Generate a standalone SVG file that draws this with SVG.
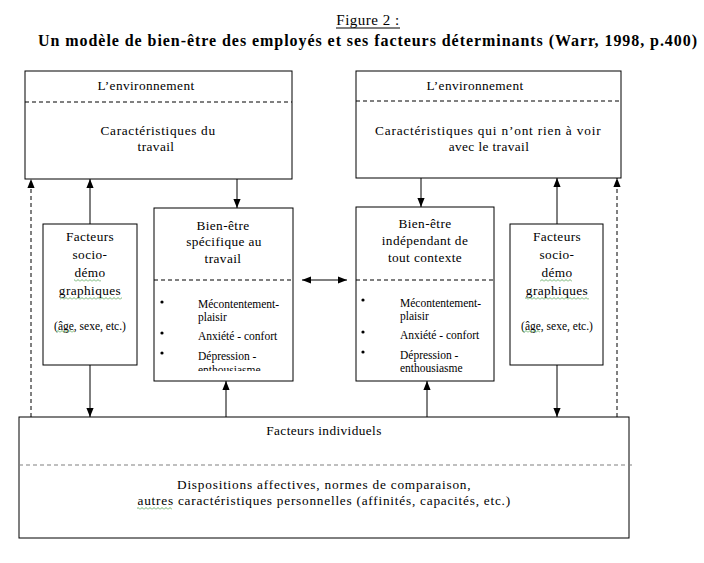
<svg xmlns="http://www.w3.org/2000/svg" width="704" height="563" viewBox="0 0 704 563">
<style>
.t{font-family:"Liberation Serif","Times New Roman",serif;font-size:13.3px;letter-spacing:0.4px;fill:#000}
.s{font-family:"Liberation Serif","Times New Roman",serif;font-size:11.5px;fill:#000}
.box{fill:#fff;stroke:#000;stroke-width:1}
.dl{stroke:#000;stroke-width:1;stroke-dasharray:4 3;fill:none}
.dg{stroke:#808080;stroke-width:1.2;stroke-dasharray:4 3;fill:none}
.c{stroke:#000;stroke-width:1;fill:none}
.cd{stroke:#000;stroke-width:1;fill:none;stroke-dasharray:4 3}
.m{text-anchor:middle}
</style>
<defs>
<marker id="ah" viewBox="0 0 10 8" markerWidth="9" markerHeight="8" markerUnits="userSpaceOnUse" refX="10" refY="4" orient="auto-start-reverse">
<path d="M0,0 L10,4 L0,8 z" fill="#000"/>
</marker>
<pattern id="sq" width="4" height="3" patternUnits="userSpaceOnUse">
<path d="M0,2.5 L2,0.5 L4,2.5" fill="none" stroke="#4a9e4a" stroke-width="0.8"/>
</pattern>
<clipPath id="clipL"><rect x="154" y="208" width="139" height="163"/></clipPath>
</defs>
<rect width="704" height="563" fill="#fff"/>

<g id="title">
<text x="368" y="25" class="t m" style="font-size:15px;letter-spacing:0.5px">Figure 2 :</text>
<line x1="336" y1="28" x2="400" y2="28" stroke="#000" stroke-width="1"/>
<text x="38" y="46" class="t" style="font-size:16px;font-weight:bold;letter-spacing:0" textLength="659" lengthAdjust="spacing">Un modèle de bien-être des employés et ses facteurs déterminants (Warr, 1998, p.400)</text>
</g>

<g id="connectors">
<line x1="90" y1="224" x2="90" y2="179" class="c" marker-end="url(#ah)"/>
<line x1="237" y1="179" x2="237" y2="208" class="c" marker-end="url(#ah)"/>
<line x1="421" y1="178" x2="421" y2="207" class="c" marker-end="url(#ah)"/>
<line x1="557" y1="224" x2="557" y2="178" class="c" marker-end="url(#ah)"/>
<line x1="31" y1="417" x2="31" y2="179" class="cd" marker-end="url(#ah)"/>
<line x1="617" y1="417" x2="617" y2="178" class="cd" marker-end="url(#ah)"/>
<line x1="90" y1="365" x2="90" y2="417" class="c" marker-end="url(#ah)"/>
<line x1="226" y1="417" x2="226" y2="381" class="c" marker-end="url(#ah)"/>
<line x1="427" y1="417" x2="427" y2="381" class="c" marker-end="url(#ah)"/>
<line x1="557" y1="365" x2="557" y2="417" class="c" marker-end="url(#ah)"/>
<line x1="302" y1="280" x2="347" y2="280" class="c" marker-start="url(#ah)" marker-end="url(#ah)"/>
</g>

<g id="env-travail">
<rect x="25" y="71" width="267" height="108" class="box"/>
<line x1="25" y1="102" x2="292" y2="102" class="dl"/>
<text x="146" y="90" class="t m">L’environnement</text>
<text x="158" y="135" class="t m" textLength="115" lengthAdjust="spacing">Caractéristiques du</text>
<text x="156" y="151" class="t m">travail</text>
</g>

<g id="env-hors-travail">
<rect x="356" y="71" width="265" height="107" class="box"/>
<line x1="356" y1="101" x2="621" y2="101" class="dl"/>
<text x="475" y="90" class="t m">L’environnement</text>
<text x="488" y="135" class="t m" textLength="226" lengthAdjust="spacing">Caractéristiques qui n’ont rien à voir</text>
<text x="489" y="151" class="t m">avec le travail</text>
</g>

<g id="socio-gauche">
<rect x="43" y="224" width="94" height="141" class="box"/>
<text x="90" y="241" class="t m">Facteurs</text>
<text x="90" y="259" class="t m">socio-</text>
<text x="90" y="277" class="t m">démo</text>
<text x="90" y="295" class="t m">graphiques</text>
<text x="90" y="330" class="s m">(âge, sexe, etc.)</text>
<rect x="74" y="279" width="27" height="3" fill="url(#sq)"/>
<rect x="60" y="297" width="62" height="3" fill="url(#sq)"/>
<rect x="56" y="330" width="18" height="3" fill="url(#sq)"/>
</g>

<g id="bienetre-travail">
<rect x="154" y="208" width="139" height="173" class="box"/>
<line x1="154" y1="280" x2="293" y2="280" class="dl"/>
<text x="223" y="230" class="t m">Bien-être</text>
<text x="224" y="246" class="t m">spécifique au</text>
<text x="223" y="263" class="t m">travail</text>
<g clip-path="url(#clipL)">
<circle cx="162" cy="302" r="1.6" fill="#000"/>
<circle cx="162" cy="333" r="1.6" fill="#000"/>
<circle cx="162" cy="353" r="1.6" fill="#000"/>
<text x="198" y="308" class="s">Mécontentement-</text>
<text x="198" y="321" class="s">plaisir</text>
<text x="198" y="340" class="s">Anxiété - confort</text>
<text x="198" y="360" class="s">Dépression -</text>
<text x="198" y="374" class="s">enthousiasme</text>
</g>
</g>

<g id="bienetre-general">
<rect x="356" y="207" width="138" height="174" class="box"/>
<line x1="356" y1="280" x2="494" y2="280" class="dl"/>
<text x="425" y="228" class="t m">Bien-être</text>
<text x="425" y="245" class="t m">indépendant de</text>
<text x="425" y="262" class="t m">tout contexte</text>
<circle cx="363" cy="300" r="1.6" fill="#000"/>
<circle cx="363" cy="332" r="1.6" fill="#000"/>
<circle cx="363" cy="352" r="1.6" fill="#000"/>
<text x="400" y="307" class="s">Mécontentement-</text>
<text x="400" y="320" class="s">plaisir</text>
<text x="400" y="339" class="s">Anxiété - confort</text>
<text x="400" y="359" class="s">Dépression -</text>
<text x="400" y="372" class="s">enthousiasme</text>
</g>

<g id="socio-droite">
<rect x="510" y="224" width="93" height="141" class="box"/>
<text x="557" y="241" class="t m">Facteurs</text>
<text x="557" y="259" class="t m">socio-</text>
<text x="557" y="277" class="t m">démo</text>
<text x="557" y="295" class="t m">graphiques</text>
<text x="557" y="330" class="s m">(âge, sexe, etc.)</text>
<rect x="540" y="279" width="32" height="3" fill="url(#sq)"/>
<rect x="525" y="297" width="64" height="3" fill="url(#sq)"/>
<rect x="522" y="330" width="18" height="3" fill="url(#sq)"/>
</g>

<g id="facteurs-individuels">
<rect x="19" y="417" width="610" height="121" class="box"/>
<line x1="19" y1="465" x2="632" y2="465" class="dg"/>
<text x="324" y="435" class="t m">Facteurs individuels</text>
<text x="324" y="489" class="t m" textLength="294" lengthAdjust="spacing">Dispositions affectives, normes de comparaison,</text>
<text x="324" y="505" class="t m" textLength="373" lengthAdjust="spacing">autres caractéristiques personnelles (affinités, capacités, etc.)</text>
<rect x="137" y="507" width="35" height="3" fill="url(#sq)"/>
</g>
</svg>
